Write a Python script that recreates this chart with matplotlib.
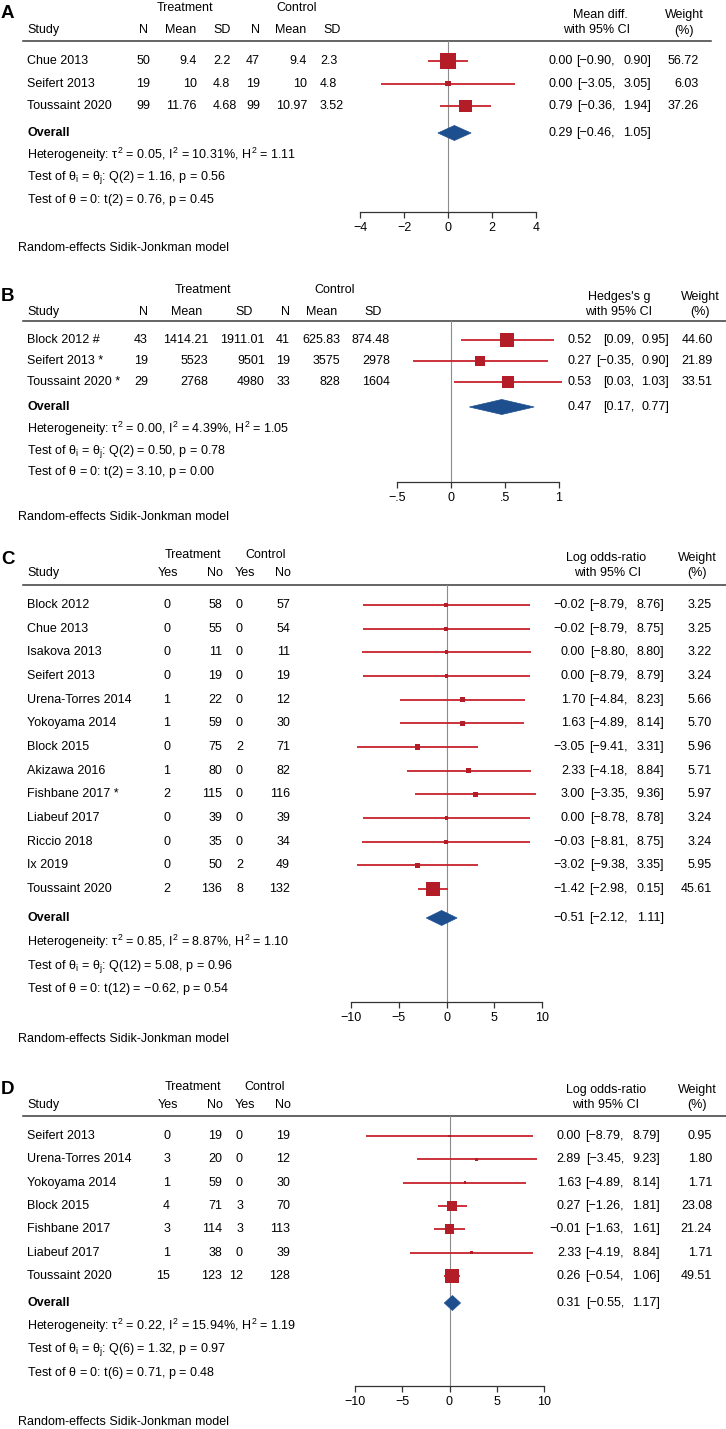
import numpy as np
import matplotlib
matplotlib.use("Agg")
import matplotlib.pyplot as plt
from matplotlib.patches import Polygon

plt.rcParams['font.family'] = ['Liberation Sans', 'DejaVu Sans']
plt.rcParams['font.size'] = 9
plt.rcParams['mathtext.fontset'] = 'custom'
plt.rcParams['mathtext.rm'] = 'Liberation Sans'
plt.rcParams['mathtext.it'] = 'Liberation Sans'
plt.rcParams['mathtext.bf'] = 'Liberation Sans:bold'

# ---- panel A: mean difference
a_study = ["Chue 2013", "Seifert 2013", "Toussaint 2020"]
a_t_n = [50, 19, 99]
a_t_mean = [9.4, 10, 11.76]
a_t_sd = [2.2, 4.8, 4.68]
a_c_n = [47, 19, 99]
a_c_mean = [9.4, 10, 10.97]
a_c_sd = [2.3, 4.8, 3.52]
a_est = [0.00, 0.00, 0.79]
a_lo = [-0.90, -3.05, -0.36]
a_hi = [0.90, 3.05, 1.94]
a_w = [56.72, 6.03, 37.26]
a_overall = [0.29, -0.46, 1.05]
a_stats = ["Heterogeneity: $\\tau^2$ = 0.05, $I^2$ = 10.31%, $H^2$ = 1.11",
           "Test of $\\theta_i$ = $\\theta_j$: Q(2) = 1.16, p = 0.56",
           "Test of $\\theta$ = 0: t(2) = 0.76, p = 0.45"]
a_ticks = [-4, -2, 0, 2, 4]
a_ticklabels = ["\u22124", "\u22122", "0", "2", "4"]

# ---- panel B: Hedges's g
b_study = ["Block 2012 #", "Seifert 2013 *", "Toussaint 2020 *"]
b_t_n = [43, 19, 29]
b_t_mean = [1414.21, 5523, 2768]
b_t_sd = [1911.01, 9501, 4980]
b_c_n = [41, 19, 33]
b_c_mean = [625.83, 3575, 828]
b_c_sd = [874.48, 2978, 1604]
b_est = [0.52, 0.27, 0.53]
b_lo = [0.09, -0.35, 0.03]
b_hi = [0.95, 0.90, 1.03]
b_w = [44.60, 21.89, 33.51]
b_overall = [0.47, 0.17, 0.77]
b_stats = ["Heterogeneity: $\\tau^2$ = 0.00, $I^2$ = 4.39%, $H^2$ = 1.05",
           "Test of $\\theta_i$ = $\\theta_j$: Q(2) = 0.50, p = 0.78",
           "Test of $\\theta$ = 0: t(2) = 3.10, p = 0.00"]
b_ticks = [-0.5, 0, 0.5, 1]
b_ticklabels = ["\u2212.5", "0", ".5", "1"]

# ---- panel C: log odds-ratio
c_study = ["Block 2012", "Chue 2013", "Isakova 2013", "Seifert 2013", "Urena-Torres 2014",
           "Yokoyama 2014", "Block 2015", "Akizawa 2016", "Fishbane 2017 *", "Liabeuf 2017",
           "Riccio 2018", "Ix 2019", "Toussaint 2020"]
c_t_yes = [0, 0, 0, 0, 1, 1, 0, 1, 2, 0, 0, 0, 2]
c_t_no = [58, 55, 11, 19, 22, 59, 75, 80, 115, 39, 35, 50, 136]
c_c_yes = [0, 0, 0, 0, 0, 0, 2, 0, 0, 0, 0, 2, 8]
c_c_no = [57, 54, 11, 19, 12, 30, 71, 82, 116, 39, 34, 49, 132]
c_est = [-0.02, -0.02, 0.00, 0.00, 1.70, 1.63, -3.05, 2.33, 3.00, 0.00, -0.03, -3.02, -1.42]
c_lo = [-8.79, -8.79, -8.80, -8.79, -4.84, -4.89, -9.41, -4.18, -3.35, -8.78, -8.81, -9.38, -2.98]
c_hi = [8.76, 8.75, 8.80, 8.79, 8.23, 8.14, 3.31, 8.84, 9.36, 8.78, 8.75, 3.35, 0.15]
c_w = [3.25, 3.25, 3.22, 3.24, 5.66, 5.70, 5.96, 5.71, 5.97, 3.24, 3.24, 5.95, 45.61]
c_overall = [-0.51, -2.12, 1.11]
c_stats = ["Heterogeneity: $\\tau^2$ = 0.85, $I^2$ = 8.87%, $H^2$ = 1.10",
           "Test of $\\theta_i$ = $\\theta_j$: Q(12) = 5.08, p = 0.96",
           "Test of $\\theta$ = 0: t(12) = \u22120.62, p = 0.54"]
c_ticks = [-10, -5, 0, 5, 10]
c_ticklabels = ["\u221210", "\u22125", "0", "5", "10"]

# ---- panel D: log odds-ratio
d_study = ["Seifert 2013", "Urena-Torres 2014", "Yokoyama 2014", "Block 2015",
           "Fishbane 2017", "Liabeuf 2017", "Toussaint 2020"]
d_t_yes = [0, 3, 1, 4, 3, 1, 15]
d_t_no = [19, 20, 59, 71, 114, 38, 123]
d_c_yes = [0, 0, 0, 3, 3, 0, 12]
d_c_no = [19, 12, 30, 70, 113, 39, 128]
d_est = [0.00, 2.89, 1.63, 0.27, -0.01, 2.33, 0.26]
d_lo = [-8.79, -3.45, -4.89, -1.26, -1.63, -4.19, -0.54]
d_hi = [8.79, 9.23, 8.14, 1.81, 1.61, 8.84, 1.06]
d_w = [0.95, 1.80, 1.71, 23.08, 21.24, 1.71, 49.51]
d_overall = [0.31, -0.55, 1.17]
d_stats = ["Heterogeneity: $\\tau^2$ = 0.22, $I^2$ = 15.94%, $H^2$ = 1.19",
           "Test of $\\theta_i$ = $\\theta_j$: Q(6) = 1.32, p = 0.97",
           "Test of $\\theta$ = 0: t(6) = 0.71, p = 0.48"]
d_ticks = [-10, -5, 0, 5, 10]
d_ticklabels = ["\u221210", "\u22125", "0", "5", "10"]

W, H = 726, 1429
RED = '#b31d28'
RED_LINE = '#c8222c'
BLUE = '#1d4f8f'

fig = plt.figure(figsize=(W / 100, H / 100), dpi=100)
cv = fig.add_axes([0, 0, 1, 1])
cv.set_xlim(0, W)
cv.set_ylim(H, 0)
cv.axis('off')


def fmt(v):
    return f"{v:.2f}".replace("-", "\u2212")


def draw_panel(p):
    cv.text(1, p['letter_y'], p['letter'], fontsize=13.5, fontweight='bold', ha='left', va='center')
    for txt, xc in p['groups']:
        cv.text(xc, p['group_y'], txt, ha='center', va='center')
    cv.text(27, p['head_y'], 'Study', ha='left', va='center')
    for txt, xc in p['heads']:
        cv.text(xc, p['head_y'], txt, ha='center', va='center')
    for txt, xc, y in p['rheads']:
        cv.text(xc, y, txt, ha='center', va='center')
    cv.plot([23, p['line_x1']], [p['line_y']] * 2, color='#3a3a3a', lw=1.1)

    rows_y = p['row0'] + p['step'] * np.arange(len(p['study']))
    cx = p['ci_x']
    for i, y in enumerate(rows_y):
        cv.text(27, y, p['study'][i], ha='left', va='center')
        for vals, x, ha in p['cols']:
            cv.text(x, y, f"{vals[i]:g}", ha=ha, va='center')
        cv.text(cx[0], y, fmt(p['est'][i]), ha='right', va='center')
        cv.text(cx[1], y, "[" + fmt(p['lo'][i]) + ",", ha='right', va='center')
        cv.text(cx[2], y, fmt(p['hi'][i]) + "]", ha='right', va='center')
        cv.text(p['w_x'], y, f"{p['w'][i]:.2f}", ha='right', va='center')

    oy = p['overall_y']
    est_o, lo_o, hi_o = p['overall']
    cv.text(27, oy, 'Overall', fontweight='bold', ha='left', va='center')
    cv.text(cx[0], oy, fmt(est_o), ha='right', va='center')
    cv.text(cx[1], oy, "[" + fmt(lo_o) + ",", ha='right', va='center')
    cv.text(cx[2], oy, fmt(hi_o) + "]", ha='right', va='center')
    for txt, y in zip(p['stats'], p['stats_y']):
        cv.text(27, y, txt, ha='left', va='center')
    cv.text(18, p['random_y'], 'Random-effects Sidik-Jonkman model', ha='left', va='center')

    x0, x1 = p['ax_px']
    ax = fig.add_axes([x0 / W, 1 - p['axis_y'] / H, (x1 - x0) / W, (p['axis_y'] - p['line_y']) / H])
    ax.set_xlim(*p['xlim'])
    ax.set_ylim(p['axis_y'], p['line_y'])
    ax.patch.set_alpha(0)
    for s in ['left', 'right', 'top']:
        ax.spines[s].set_visible(False)
    ax.spines['bottom'].set_color('#333333')
    ax.spines['bottom'].set_linewidth(0.9)
    ax.set_yticks([])
    ax.set_xticks(p['ticks'])
    ax.set_xticklabels(p['ticklabels'])
    ax.tick_params(axis='x', direction='out', length=4, width=0.9, pad=3.5, labelsize=9, color='#333333')
    ax.axvline(0, color='#8c8c8c', lw=0.8, zorder=1)

    ax.hlines(rows_y, p['lo'], p['hi'], color=RED_LINE, lw=1.3, zorder=2, clip_on=False)
    side = 2.1 * np.sqrt(np.array(p['w'])) * 0.72
    ax.scatter(p['est'], rows_y, marker='s', s=side ** 2, color=RED, edgecolor='none',
               zorder=3, clip_on=False)
    half = 7.5
    ax.add_patch(Polygon([[lo_o, oy], [est_o, oy - half], [hi_o, oy], [est_o, oy + half]],
                         closed=True, facecolor=BLUE, edgecolor=BLUE, lw=0.5, zorder=3, clip_on=False))


yes_no = [("Yes", 168), ("No", 214.5), ("Yes", 245), ("No", 282.5)]

draw_panel(dict(
    letter='A', letter_y=13.5, groups=[("Treatment", 185), ("Control", 297)], group_y=8,
    heads=[("N", 144), ("Mean", 181), ("SD", 222), ("N", 256), ("Mean", 291), ("SD", 332)], head_y=30,
    rheads=[("Mean diff.", 600, 15), ("with 95% CI", 597, 30), ("Weight", 684, 15), ("(%)", 684, 31)],
    line_y=40.5, line_x1=711, row0=61, step=22.5, study=a_study,
    cols=[(a_t_n, 150, 'right'), (a_t_mean, 197, 'right'), (a_t_sd, 213, 'left'),
          (a_c_n, 260, 'right'), (a_c_mean, 307, 'right'), (a_c_sd, 320, 'left')],
    est=a_est, lo=a_lo, hi=a_hi, w=a_w, overall=a_overall, ci_x=[573, 615, 651], w_x=699,
    overall_y=133, stats=a_stats, stats_y=[155, 177.5, 200], random_y=248,
    ax_px=(360, 536), xlim=(-4, 4), axis_y=212, ticks=a_ticks, ticklabels=a_ticklabels))

draw_panel(dict(
    letter='B', letter_y=296, groups=[("Treatment", 203), ("Control", 335)], group_y=290,
    heads=[("N", 144), ("Mean", 187), ("SD", 244), ("N", 286), ("Mean", 322), ("SD", 373)], head_y=312,
    rheads=[("Hedges's g", 619, 297), ("with 95% CI", 619, 312), ("Weight", 700, 297), ("(%)", 700, 312)],
    line_y=321, line_x1=726, row0=340, step=21, study=b_study,
    cols=[(b_t_n, 148, 'right'), (b_t_mean, 208, 'right'), (b_t_sd, 265, 'right'),
          (b_c_n, 290, 'right'), (b_c_mean, 340, 'right'), (b_c_sd, 390, 'right')],
    est=b_est, lo=b_lo, hi=b_hi, w=b_w, overall=b_overall, ci_x=[592, 634, 669], w_x=713,
    overall_y=407, stats=b_stats, stats_y=[429, 451, 472], random_y=517,
    ax_px=(397, 559), xlim=(-0.5, 1), axis_y=482, ticks=b_ticks, ticklabels=b_ticklabels))

draw_panel(dict(
    letter='C', letter_y=559, groups=[("Treatment", 193), ("Control", 266)], group_y=555,
    heads=yes_no, head_y=573,
    rheads=[("Log odds-ratio", 606, 558), ("with 95% CI", 608, 573), ("Weight", 697, 558), ("(%)", 697, 573)],
    line_y=584.5, line_x1=726, row0=605, step=23.67, study=c_study,
    cols=[(c_t_yes, 170, 'right'), (c_t_no, 222, 'right'), (c_c_yes, 243, 'right'), (c_c_no, 290, 'right')],
    est=c_est, lo=c_lo, hi=c_hi, w=c_w, overall=c_overall, ci_x=[585, 628, 664], w_x=712,
    overall_y=918, stats=c_stats, stats_y=[942, 966, 989], random_y=1039,
    ax_px=(351, 542), xlim=(-10, 10), axis_y=1002, ticks=c_ticks, ticklabels=c_ticklabels))

draw_panel(dict(
    letter='D', letter_y=1090, groups=[("Treatment", 193), ("Control", 265)], group_y=1087,
    heads=yes_no, head_y=1105,
    rheads=[("Log odds-ratio", 606, 1090), ("with 95% CI", 606, 1105), ("Weight", 697, 1090), ("(%)", 697, 1105)],
    line_y=1116, line_x1=726, row0=1136, step=23.33, study=d_study,
    cols=[(d_t_yes, 170, 'right'), (d_t_no, 222, 'right'), (d_c_yes, 243, 'right'), (d_c_no, 290, 'right')],
    est=d_est, lo=d_lo, hi=d_hi, w=d_w, overall=d_overall, ci_x=[581, 624, 660], w_x=712,
    overall_y=1303, stats=d_stats, stats_y=[1326, 1349, 1373], random_y=1422,
    ax_px=(355, 544), xlim=(-10, 10), axis_y=1386, ticks=d_ticks, ticklabels=d_ticklabels))

fig.savefig("out.png", dpi=100)
